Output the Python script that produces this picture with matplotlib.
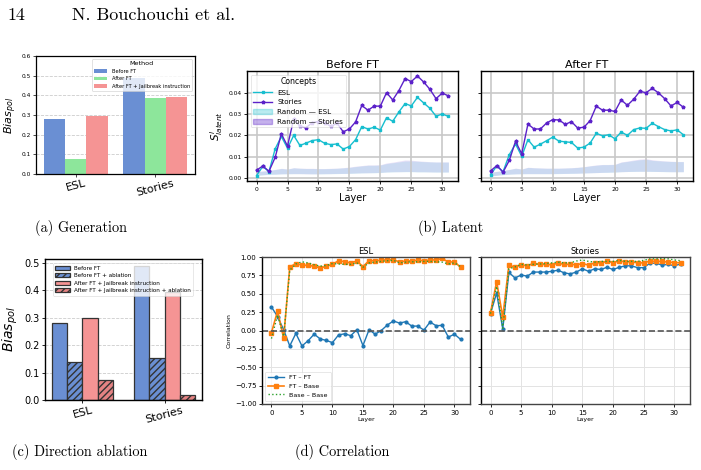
import numpy as np
import matplotlib.pyplot as plt
from matplotlib.patches import Patch
from matplotlib.lines import Line2D

# ---- data ----
concepts = ["ESL", "Stories"]
gen_before_ft = [0.280, 0.490]
gen_after_ft = [0.075, 0.388]
gen_after_ft_jb = [0.297, 0.393]

abl_before_ft = [0.280, 0.490]
abl_before_ft_abl = [0.140, 0.153]
abl_after_ft_jb = [0.298, 0.393]
abl_after_ft_jb_abl = [0.073, 0.018]

layers = list(range(32))

lat_before_esl = [0.0012, 0.0055, 0.0030, 0.0137, 0.0195, 0.0140, 0.0200, 0.0153, 0.0164, 0.0176,
                  0.0180, 0.0163, 0.0157, 0.0160, 0.0136, 0.0148, 0.0180, 0.0241, 0.0230, 0.0238,
                  0.0225, 0.0283, 0.0266, 0.0310, 0.0349, 0.0338, 0.0378, 0.0352, 0.0327, 0.0290,
                  0.0300, 0.0289]
lat_before_stories = [0.0037, 0.0057, 0.0032, 0.0097, 0.0207, 0.0150, 0.0277, 0.0243, 0.0236, 0.0260,
                      0.0265, 0.0260, 0.0242, 0.0257, 0.0217, 0.0230, 0.0263, 0.0340, 0.0318, 0.0337,
                      0.0337, 0.0400, 0.0366, 0.0410, 0.0466, 0.0452, 0.0478, 0.0450, 0.0416, 0.0372,
                      0.0398, 0.0385]
lat_after_esl = [0.0017, 0.0057, 0.0030, 0.0110, 0.0160, 0.0102, 0.0180, 0.0145, 0.0159, 0.0175,
                 0.0192, 0.0173, 0.0170, 0.0167, 0.0141, 0.0145, 0.0164, 0.0210, 0.0198, 0.0203,
                 0.0184, 0.0216, 0.0200, 0.0227, 0.0235, 0.0233, 0.0257, 0.0241, 0.0227, 0.0221,
                 0.0226, 0.0203]
lat_after_stories = [0.0034, 0.0059, 0.0028, 0.0083, 0.0172, 0.0114, 0.0253, 0.0230, 0.0230, 0.0258,
                     0.0274, 0.0272, 0.0252, 0.0264, 0.0235, 0.0238, 0.0269, 0.0337, 0.0318, 0.0318,
                     0.0312, 0.0366, 0.0341, 0.0369, 0.0406, 0.0400, 0.0420, 0.0399, 0.0372, 0.0338,
                     0.0354, 0.0332]

rand_before_esl_lo = [0.0012, 0.0015, 0.0018, 0.0018, 0.0020, 0.0020, 0.0021, 0.0021, 0.0021, 0.0020,
                      0.0020, 0.0020, 0.0021, 0.0021, 0.0022, 0.0022, 0.0023, 0.0024, 0.0025, 0.0025,
                      0.0026, 0.0028, 0.0029, 0.0030, 0.0030, 0.0030, 0.0029, 0.0029, 0.0029, 0.0028,
                      0.0028, 0.0028]
rand_before_esl_hi = [0.0030, 0.0032, 0.0035, 0.0040, 0.0045, 0.0042, 0.0048, 0.0046, 0.0045, 0.0045,
                      0.0044, 0.0044, 0.0045, 0.0046, 0.0048, 0.0050, 0.0054, 0.0057, 0.0060, 0.0060,
                      0.0061, 0.0068, 0.0072, 0.0076, 0.0080, 0.0080, 0.0079, 0.0077, 0.0076, 0.0075,
                      0.0075, 0.0075]
rand_before_sto_lo = [0.0014, 0.0016, 0.0018, 0.0019, 0.0020, 0.0021, 0.0021, 0.0021, 0.0020, 0.0020,
                      0.0020, 0.0021, 0.0021, 0.0022, 0.0022, 0.0023, 0.0024, 0.0025, 0.0025, 0.0026,
                      0.0027, 0.0029, 0.0030, 0.0030, 0.0031, 0.0031, 0.0030, 0.0030, 0.0029, 0.0029,
                      0.0029, 0.0029]
rand_before_sto_hi = [0.0031, 0.0034, 0.0036, 0.0041, 0.0046, 0.0043, 0.0049, 0.0047, 0.0046, 0.0046,
                      0.0045, 0.0045, 0.0046, 0.0047, 0.0049, 0.0052, 0.0056, 0.0059, 0.0062, 0.0062,
                      0.0063, 0.0071, 0.0075, 0.0080, 0.0085, 0.0084, 0.0081, 0.0079, 0.0077, 0.0076,
                      0.0076, 0.0076]
rand_after_esl_lo = [0.0010, 0.0013, 0.0016, 0.0018, 0.0020, 0.0020, 0.0021, 0.0021, 0.0021, 0.0021,
                     0.0021, 0.0021, 0.0022, 0.0022, 0.0023, 0.0024, 0.0025, 0.0026, 0.0027, 0.0027,
                     0.0028, 0.0030, 0.0031, 0.0031, 0.0032, 0.0032, 0.0031, 0.0031, 0.0030, 0.0030,
                     0.0030, 0.0030]
rand_after_esl_hi = [0.0027, 0.0031, 0.0035, 0.0040, 0.0046, 0.0042, 0.0050, 0.0048, 0.0047, 0.0046,
                     0.0046, 0.0046, 0.0047, 0.0048, 0.0050, 0.0053, 0.0057, 0.0060, 0.0063, 0.0063,
                     0.0064, 0.0074, 0.0078, 0.0082, 0.0086, 0.0088, 0.0083, 0.0081, 0.0079, 0.0078,
                     0.0077, 0.0077]
rand_after_sto_lo = [0.0011, 0.0014, 0.0017, 0.0019, 0.0020, 0.0021, 0.0021, 0.0021, 0.0021, 0.0021,
                     0.0021, 0.0022, 0.0022, 0.0023, 0.0023, 0.0024, 0.0025, 0.0026, 0.0027, 0.0028,
                     0.0029, 0.0030, 0.0031, 0.0032, 0.0032, 0.0032, 0.0032, 0.0031, 0.0031, 0.0030,
                     0.0030, 0.0030]
rand_after_sto_hi = [0.0028, 0.0032, 0.0036, 0.0041, 0.0047, 0.0043, 0.0051, 0.0049, 0.0048, 0.0047,
                     0.0047, 0.0047, 0.0048, 0.0049, 0.0051, 0.0054, 0.0058, 0.0062, 0.0064, 0.0064,
                     0.0065, 0.0076, 0.0080, 0.0085, 0.0089, 0.0091, 0.0086, 0.0083, 0.0081, 0.0079,
                     0.0078, 0.0078]

corr_esl_ftft = [0.32, 0.19, 0.01, -0.21, -0.04, -0.21, -0.14, -0.05, -0.115, -0.135,
                 -0.165, -0.06, -0.045, -0.07, 0.01, -0.205, 0.01, -0.05, 0.0, 0.075,
                 0.13, 0.10, 0.12, 0.06, 0.06, 0.005, 0.115, 0.065, 0.07, -0.09,
                 -0.05, -0.12]
corr_esl_ftbase = [-0.03, 0.265, -0.105, 0.865, 0.91, 0.89, 0.885, 0.875, 0.85, 0.875,
                   0.90, 0.95, 0.935, 0.92, 0.945, 0.87, 0.95, 0.95, 0.955, 0.965,
                   0.96, 0.935, 0.945, 0.95, 0.955, 0.95, 0.96, 0.96, 0.98, 0.93,
                   0.935, 0.86]
corr_esl_basebase = [-0.11, 0.21, -0.08, 0.82, 0.905, 0.935, 0.92, 0.895, 0.875, 0.885,
                     0.91, 0.905, 0.90, 0.90, 0.92, 0.86, 0.92, 0.93, 0.94, 0.95,
                     0.955, 0.92, 0.93, 0.935, 0.935, 0.94, 0.94, 0.935, 0.93, 0.905,
                     0.92, 0.87]
corr_sto_ftft = [0.23, 0.51, 0.02, 0.79, 0.715, 0.755, 0.74, 0.795, 0.795, 0.795,
                 0.805, 0.82, 0.785, 0.77, 0.795, 0.84, 0.805, 0.84, 0.83, 0.86,
                 0.83, 0.86, 0.88, 0.88, 0.855, 0.855, 0.915, 0.915, 0.89, 0.90,
                 0.88, 0.905]
corr_sto_ftbase = [0.24, 0.665, 0.18, 0.89, 0.86, 0.895, 0.88, 0.915, 0.90, 0.90,
                   0.895, 0.915, 0.90, 0.90, 0.895, 0.91, 0.89, 0.92, 0.92, 0.94,
                   0.925, 0.945, 0.935, 0.935, 0.92, 0.92, 0.945, 0.94, 0.94, 0.93,
                   0.925, 0.92]
corr_sto_basebase = [0.23, 0.60, 0.03, 0.84, 0.865, 0.90, 0.89, 0.90, 0.905, 0.91,
                     0.92, 0.93, 0.92, 0.92, 0.945, 0.96, 0.94, 0.93, 0.94, 0.94,
                     0.94, 0.955, 0.94, 0.94, 0.94, 0.955, 0.975, 0.975, 0.98, 0.975,
                     0.96, 0.95]

# ---- style ----
W, H = 701, 470
BLUE = "#6a8fd3"
GREEN = "#8de69b"
PINK = "#f59494"
CYAN = "#17becf"
PURPLE = "#5b21c9"
SERIF = ["cmr10", "DejaVu Serif"]


def rect(l, t, r, b):
    return [l / W, 1 - b / H, (r - l) / W, (b - t) / H]


fig = plt.figure(figsize=(W / 100, H / 100), dpi=100)

fig.text(7 / W, 1 - 15 / H, "14", family=SERIF, fontsize=13, va="center")
fig.text(72 / W, 1 - 15 / H, "N. Bouchouchi et al.", family=SERIF, fontsize=13, va="center")

# (a) Generation
ax = fig.add_axes(rect(36, 56, 195, 174))
x = np.arange(len(concepts))
w = 0.8 / 3
ax.bar(x - w, gen_before_ft, w, color=BLUE, label="Before FT", zorder=2)
ax.bar(x, gen_after_ft, w, color=GREEN, label="After FT", zorder=2)
ax.bar(x + w, gen_after_ft_jb, w, color=PINK, label="After FT + Jailbreak instruction", zorder=2)
ax.set_ylim(0, 0.6)
ax.set_xlim(-0.5, 1.5)
ax.set_yticks(np.arange(0, 0.61, 0.1))
ax.yaxis.grid(True, linestyle="--", color="#cccccc", linewidth=0.6, zorder=0)
ax.set_axisbelow(True)
ax.set_xticks(x)
ax.set_xticklabels(concepts, rotation=15, fontsize=8)
ax.tick_params(axis="y", labelsize=4.2, length=2, width=0.5, pad=1.5)
ax.tick_params(axis="x", length=2, width=0.5, pad=1)
ax.set_ylabel("$Bias_{pol}$", fontsize=8, labelpad=2)
for s in ax.spines.values():
    s.set_linewidth(0.9)
leg = ax.legend(title="Method", loc="upper right", fontsize=3.7, title_fontsize=4.6,
                borderpad=0.5, handlelength=2.6, labelspacing=0.5, framealpha=0.8)
leg.get_frame().set_linewidth(0.5)

# (b) Latent
lat_panels = [
    ("Before FT", lat_before_esl, lat_before_stories, rand_before_esl_lo, rand_before_esl_hi,
     rand_before_sto_lo, rand_before_sto_hi, rect(247, 71, 458, 181)),
    ("After FT", lat_after_esl, lat_after_stories, rand_after_esl_lo, rand_after_esl_hi,
     rand_after_sto_lo, rand_after_sto_hi, rect(481, 71, 693, 181)),
]
lat_axes = []
for i, (title, esl, sto, elo, ehi, slo, shi, r) in enumerate(lat_panels):
    ax = fig.add_axes(r, sharey=lat_axes[0] if lat_axes else None)
    lat_axes.append(ax)
    ax.fill_between(layers, elo, ehi, color=CYAN, alpha=0.15, linewidth=0)
    ax.fill_between(layers, slo, shi, color=PURPLE, alpha=0.13, linewidth=0)
    ax.plot(layers, esl, color=CYAN, marker="s", markersize=1.6, linewidth=1.0)
    ax.plot(layers, sto, color=PURPLE, marker="*", markersize=2.6, linewidth=1.0)
    ax.grid(True, color="#c8c8c8", linewidth=1.2)
    ax.set_xticks([0, 5, 10, 15, 20, 25, 30])
    ax.tick_params(labelsize=4.3, length=2.5, width=0.6, pad=1.5)
    ax.set_title(title, fontsize=8, pad=2)
    ax.set_xlabel("Layer", fontsize=7, labelpad=1)
    for s in ax.spines.values():
        s.set_linewidth(1.0)
    if i == 0:
        ax.set_ylabel("$S^l_{latent}$", fontsize=7.5, labelpad=2)
        handles = [
            Line2D([], [], color=CYAN, marker="s", markersize=1.6, linewidth=1.0),
            Line2D([], [], color=PURPLE, marker="*", markersize=2.6, linewidth=1.0),
            Patch(color=CYAN, alpha=0.3),
            Patch(color=PURPLE, alpha=0.35),
        ]
        leg = ax.legend(handles, ["ESL", "Stories", "Random — ESL", "Random — Stories"],
                        title="Concepts", loc="upper left", fontsize=5.1, title_fontsize=5.6,
                        borderpad=0.4, labelspacing=0.5, handlelength=2.6, framealpha=0.8)
        leg.get_frame().set_linewidth(0.4)
    else:
        ax.tick_params(labelleft=False)
lat_axes[0].set_yticks([0.0, 0.01, 0.02, 0.03, 0.04])
lat_axes[0].set_yticklabels(["0.00", "0.01", "0.02", "0.03", "0.04"])

# (c) Direction ablation
ax = fig.add_axes(rect(45, 259, 202, 400))
w = 0.185
bar_kw = dict(edgecolor="#333333", linewidth=0.9, zorder=2)
ax.bar(x - 1.5 * w, abl_before_ft, w, color=BLUE, label="Before FT", **bar_kw)
ax.bar(x - 0.5 * w, abl_before_ft_abl, w, color=BLUE, hatch="/////", label="Before FT + ablation", **bar_kw)
ax.bar(x + 0.5 * w, abl_after_ft_jb, w, color=PINK, label="After FT + Jailbreak instruction", **bar_kw)
ax.bar(x + 1.5 * w, abl_after_ft_jb_abl, w, color="#e58383", hatch="/////",
       label="After FT + Jailbreak instruction + ablation", **bar_kw)
ax.set_yticks(np.arange(0, 0.51, 0.1))
ax.yaxis.grid(True, linestyle="--", color="#cccccc", linewidth=0.6)
ax.set_axisbelow(True)
ax.set_xticks(x)
ax.set_xticklabels(concepts, rotation=15, fontsize=8)
ax.tick_params(axis="y", labelsize=7, length=2.5, width=0.6, pad=1.5)
ax.tick_params(axis="x", length=2.5, width=0.6, pad=1)
ax.set_ylabel("$Bias_{pol}$", fontsize=10, labelpad=3)
for s in ax.spines.values():
    s.set_linewidth(1.0)
leg = ax.legend(loc="upper left", fontsize=4.1, borderpad=0.4, labelspacing=0.45,
                handlelength=2.6, framealpha=0.8, bbox_to_anchor=(0.03, 0.99))
leg.get_frame().set_linewidth(0.4)

# (d) Correlation
corr_panels = [
    ("ESL", corr_esl_ftft, corr_esl_ftbase, corr_esl_basebase, rect(262, 257, 470, 404)),
    ("Stories", corr_sto_ftft, corr_sto_ftbase, corr_sto_basebase, rect(481, 257, 690, 404)),
]
for i, (title, ftft, ftbase, basebase, r) in enumerate(corr_panels):
    ax = fig.add_axes(r)
    ax.plot(layers, ftft, color="#1f77b4", marker="o", markersize=2.0, linewidth=1.0, label="FT – FT")
    ax.plot(layers, ftbase, color="#ff7f0e", marker="s", markersize=2.4, linewidth=1.2, label="FT – Base")
    ax.plot(layers, basebase, color="#2ca02c", linestyle=":", linewidth=1.0, label="Base – Base")
    ax.axhline(0, color="#555555", linestyle="--", linewidth=1.2)
    ax.set_ylim(-1, 1)
    ax.set_yticks(np.arange(-1, 1.01, 0.25))
    ax.set_xticks([0, 5, 10, 15, 20, 25, 30])
    ax.grid(True, color="#e3e3e3", linewidth=0.7)
    ax.tick_params(labelsize=5, length=2.5, width=0.6, pad=1.5)
    ax.set_title(title, fontsize=6, pad=2)
    ax.set_xlabel("Layer", fontsize=4.5, labelpad=1)
    for s in ax.spines.values():
        s.set_color("#444444")
        s.set_linewidth(1.0)
    ax.spines["left"].set_color("black")
    if i == 0:
        ax.set_ylabel("Correlation", fontsize=4.5, labelpad=2)
        leg = ax.legend(loc="lower left", fontsize=4.6, borderpad=0.5, labelspacing=0.5,
                        handlelength=2.5, framealpha=0.8)
        leg.get_frame().set_linewidth(0.4)
    else:
        ax.tick_params(labelleft=False)

# captions
cap_kw = dict(family=SERIF, fontsize=10.3, ha="center", va="center")
fig.text(81 / W, 1 - 228 / H, "(a) Generation", **cap_kw)
fig.text(451 / W, 1 - 228 / H, "(b) Latent", **cap_kw)
fig.text(80 / W, 1 - 452 / H, "(c) Direction ablation", **cap_kw)
fig.text(342 / W, 1 - 452 / H, "(d) Correlation", **cap_kw)

plt.savefig("out.png", dpi=100)
